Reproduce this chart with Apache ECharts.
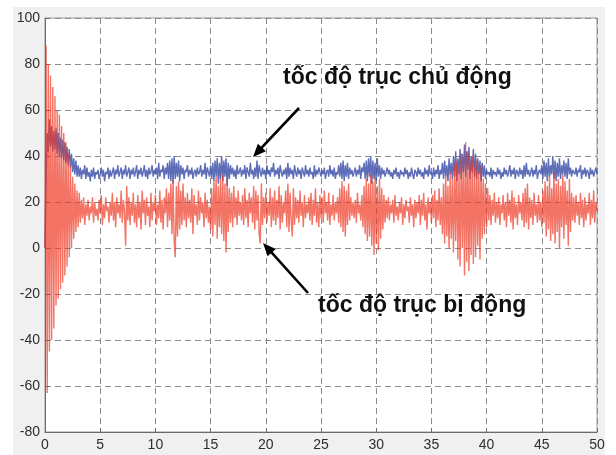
<!DOCTYPE html>
<html><head><meta charset="utf-8">
<script src="https://cdn.jsdelivr.net/npm/echarts@6/dist/echarts.min.js"></script>
<style>html,body{margin:0;padding:0;background:#fff}#c{width:616px;height:455px}</style>
</head><body><div id="c"></div>
<script>
// sample step in seconds (t = index * dt)
const dt = 0.1;
const xTicks = [0,5,10,15,20,25,30,35,40,45,50];
const yTicks = [-80,-60,-40,-20,0,20,40,60,80,100];
const labelMain = "tốc độ trục chủ động";
const labelSub = "tốc độ trục bị động";

// "tốc độ trục bị động" (red) values, one row per second
const redValues = [
 0,88,-63,80,-45,75,-40,70,-35,66,
 -25,60,-22,58,-18,53,-15,50,-12,46,
 -8,41,-4,36,0,31,4,28,7,25,
 9,24,11,21,13,22,10,19,14,21,
 12,18,15,22,11,20,14,17,12,21,
 15,23,10,19,13,22,16,18,11,20,
 14,24,12,20,9,22,15,19,13,25,
 11,21,16,1,27,12,22,10,20,14,
 24,11,19,9,23,13,20,8,25,15,
 21,10,22,14,18,9,24,12,20,16,
 23,10,19,13,25,11,21,8,22,15,
 26,9,24,12,28,6,30,3,-4,27,
 5,29,8,25,10,28,12,22,9,24,
 13,21,11,26,6,23,14,19,10,25,
 12,22,15,20,9,24,13,21,11,18,
 8,26,5,29,10,31,4,27,9,30,
 6,32,3,28,-2,30,7,26,11,24,
 9,27,13,22,10,25,14,20,12,23,
 10,26,13,21,9,24,15,22,11,27,
 8,25,12,23,6,2,28,10,22,13,
 24,11,20,14,26,9,22,12,25,10,
 21,13,27,8,23,11,20,15,25,9,
 28,7,24,12,5,26,10,22,13,21,
 11,25,14,20,9,23,13,19,15,22,
 12,24,10,21,14,26,11,20,9,23,
 13,22,11,25,15,20,12,24,10,19,
 14,23,12,20,15,22,11,26,9,29,
 7,27,5,25,10,28,12,22,14,20,
 13,21,11,24,15,19,12,23,9,27,
 6,30,3,28,5,32,1,29,-3,31,
 2,27,-1,30,4,26,8,23,11,21,
 13,22,12,19,15,21,11,23,14,18,
 12,20,15,22,10,19,13,21,16,18,
 11,22,14,19,9,21,13,20,15,23,
 10,21,14,24,12,19,8,22,15,20,
 11,23,13,25,9,21,12,26,10,22,
 6,28,2,31,5,27,0,33,4,30,
 -2,36,3,38,-5,34,-8,41,0,39,
 -12,46,-6,42,-10,37,-3,40,-7,35,
 -4,38,1,33,-5,36,4,30,6,28,
 9,26,12,23,10,21,14,24,11,20,
 13,22,10,19,15,23,12,20,9,24,
 14,21,11,25,8,22,13,19,10,23,
 15,20,12,24,9,26,11,28,8,22,
 13,21,10,24,14,19,11,23,12,20,
 9,25,11,29,5,27,8,31,3,26,
 6,33,2,28,7,30,0,27,9,32,
 4,29,10,25,1,30,7,24,12,22,
 11,23,14,20,10,24,13,21,9,22,
 12,19,15,24,10,21,13,25,11,20,
 16
];

// "tốc độ trục chủ động" (blue) values, one row per second
const blueValues = [
 0,30,50,42,56,44,53,42,51,43,
 52,41,50,40,48,39,47,38,46,37,
 44,36,43,35,41,33,39,32,38,31,
 36,31,35,30,34,32,36,30,35,31,
 33,29,34,31,35,30,33,32,34,30,
 32,35,31,34,29,33,32,35,30,34,
 31,33,35,30,34,32,36,31,33,35,
 30,34,32,36,31,33,35,30,34,32,
 35,31,33,36,30,34,32,35,31,33,
 36,31,34,30,35,32,33,36,31,34,
 32,35,30,37,31,34,33,36,30,35,
 32,37,30,38,29,39,28,40,30,37,
 31,38,29,36,32,35,30,34,33,36,
 31,34,32,35,30,33,34,31,35,32,
 33,36,31,34,32,37,30,35,33,31,
 36,30,37,29,38,31,39,28,37,30,
 40,29,38,31,39,27,37,30,36,32,
 35,31,34,30,36,32,33,35,31,34,
 32,36,30,35,33,31,37,32,34,30,
 35,31,38,30,36,33,31,35,32,34,
 30,36,32,34,31,35,33,37,31,34,
 32,35,30,36,33,31,34,32,35,30,
 37,31,35,32,34,30,36,33,31,35,
 32,34,30,35,33,31,36,32,34,31,
 35,32,33,30,36,31,34,32,35,33,
 31,34,32,35,30,33,34,31,36,32,
 34,31,35,30,33,32,36,31,37,30,
 38,29,36,31,37,30,35,32,34,31,
 33,35,31,34,32,36,30,35,33,37,
 30,38,29,39,31,40,28,38,30,37,
 29,39,31,36,30,35,32,34,31,33,
 35,32,34,31,33,30,34,32,35,31,
 33,30,34,32,33,31,35,32,34,30,
 33,31,35,32,30,34,33,31,35,32,
 34,31,33,30,35,32,34,31,36,32,
 33,30,35,31,34,32,36,30,34,32,
 37,30,38,31,36,29,39,32,37,30,
 40,31,42,29,39,32,43,30,41,33,
 45,31,42,34,44,30,40,33,43,31,
 41,30,39,32,38,29,37,31,36,30,
 34,32,33,31,35,30,34,32,33,31,
 35,32,34,30,33,31,35,32,34,31,
 33,36,31,34,32,35,30,34,33,31,
 35,32,34,30,36,31,37,32,34,31,
 33,35,31,34,32,36,30,33,34,32,
 36,30,38,31,37,29,39,31,36,32,
 40,30,38,29,37,31,39,30,36,32,
 38,31,37,30,39,32,35,31,34,33,
 32,35,31,34,33,36,30,34,32,35,
 31,34,33,30,35,32,34,31,33,35,
 32
];

const toPairs = arr => arr.map((v, i) => [+(i * dt).toFixed(2), v]);

const chart = echarts.init(document.getElementById('c'), null, {renderer: 'canvas'});
const axisLabelStyle = {color: '#2e2e2e', fontSize: 14, fontFamily: 'Liberation Sans, Arial, sans-serif'};
const dashed = {show: true, lineStyle: {color: '#8a8a8a', type: [6, 4], width: 1}};

function arrow(x1, y1, x2, y2) {
  const dx = x2 - x1, dy = y2 - y1, L = Math.hypot(dx, dy);
  const ux = dx / L, uy = dy / L, px = -uy, py = ux;
  const hl = 13, hw = 5.5;
  const bx = x2 - ux * hl, by = y2 - uy * hl;
  return [
    {type: 'line', shape: {x1: x1, y1: y1, x2: bx + ux * 2, y2: by + uy * 2}, style: {stroke: '#000', lineWidth: 2.6}, z: 100},
    {type: 'polygon', shape: {points: [[x2, y2], [bx + px * hw, by + py * hw], [bx - px * hw, by - py * hw]]}, style: {fill: '#000'}, z: 100}
  ];
}

chart.setOption({
  animation: false,
  backgroundColor: 'transparent',
  grid: {left: 45, top: 18, width: 552, height: 414, show: true, backgroundColor: '#ffffff', borderColor: '#9a9a9a', borderWidth: 1},
  xAxis: {
    type: 'value', min: xTicks[0], max: xTicks[xTicks.length - 1], interval: 5,
    axisLine: {show: true, onZero: false, lineStyle: {color: '#6a6a6a'}},
    axisTick: {show: true, inside: true, length: 4, lineStyle: {color: '#6a6a6a'}},
    axisLabel: Object.assign({margin: 6}, axisLabelStyle),
    splitLine: dashed
  },
  yAxis: {
    type: 'value', min: yTicks[0], max: yTicks[yTicks.length - 1], interval: 20,
    axisLine: {show: true, onZero: false, lineStyle: {color: '#6a6a6a'}},
    axisTick: {show: true, inside: true, length: 4, lineStyle: {color: '#6a6a6a'}},
    axisLabel: Object.assign({margin: 5}, axisLabelStyle),
    splitLine: dashed
  },
  series: [
    {name: labelMain, type: 'line', data: toPairs(blueValues), showSymbol: false,
     lineStyle: {color: 'rgba(66,84,170,0.85)', width: 1.4}, z: 2},
    {name: labelSub, type: 'line', data: toPairs(redValues), showSymbol: false,
     lineStyle: {color: 'rgba(238,56,36,0.7)', width: 1.4}, z: 3}
  ],
  graphic: [
    {type: 'rect', shape: {x: 13, y: 7, width: 592, height: 448}, style: {fill: '#f0f0f0'}, z: -10, silent: true},
    {type: 'text', x: 283, y: 78, style: {text: labelMain, font: 'bold 23px "Liberation Sans", Arial, sans-serif', fill: '#111', verticalAlign: 'middle'}, z: 100},
    {type: 'text', x: 318, y: 306, style: {text: labelSub, font: 'bold 23px "Liberation Sans", Arial, sans-serif', fill: '#111', verticalAlign: 'middle'}, z: 100}
  ].concat(arrow(299, 108, 253, 157), arrow(308, 293, 263, 243))
});
</script></body></html>
